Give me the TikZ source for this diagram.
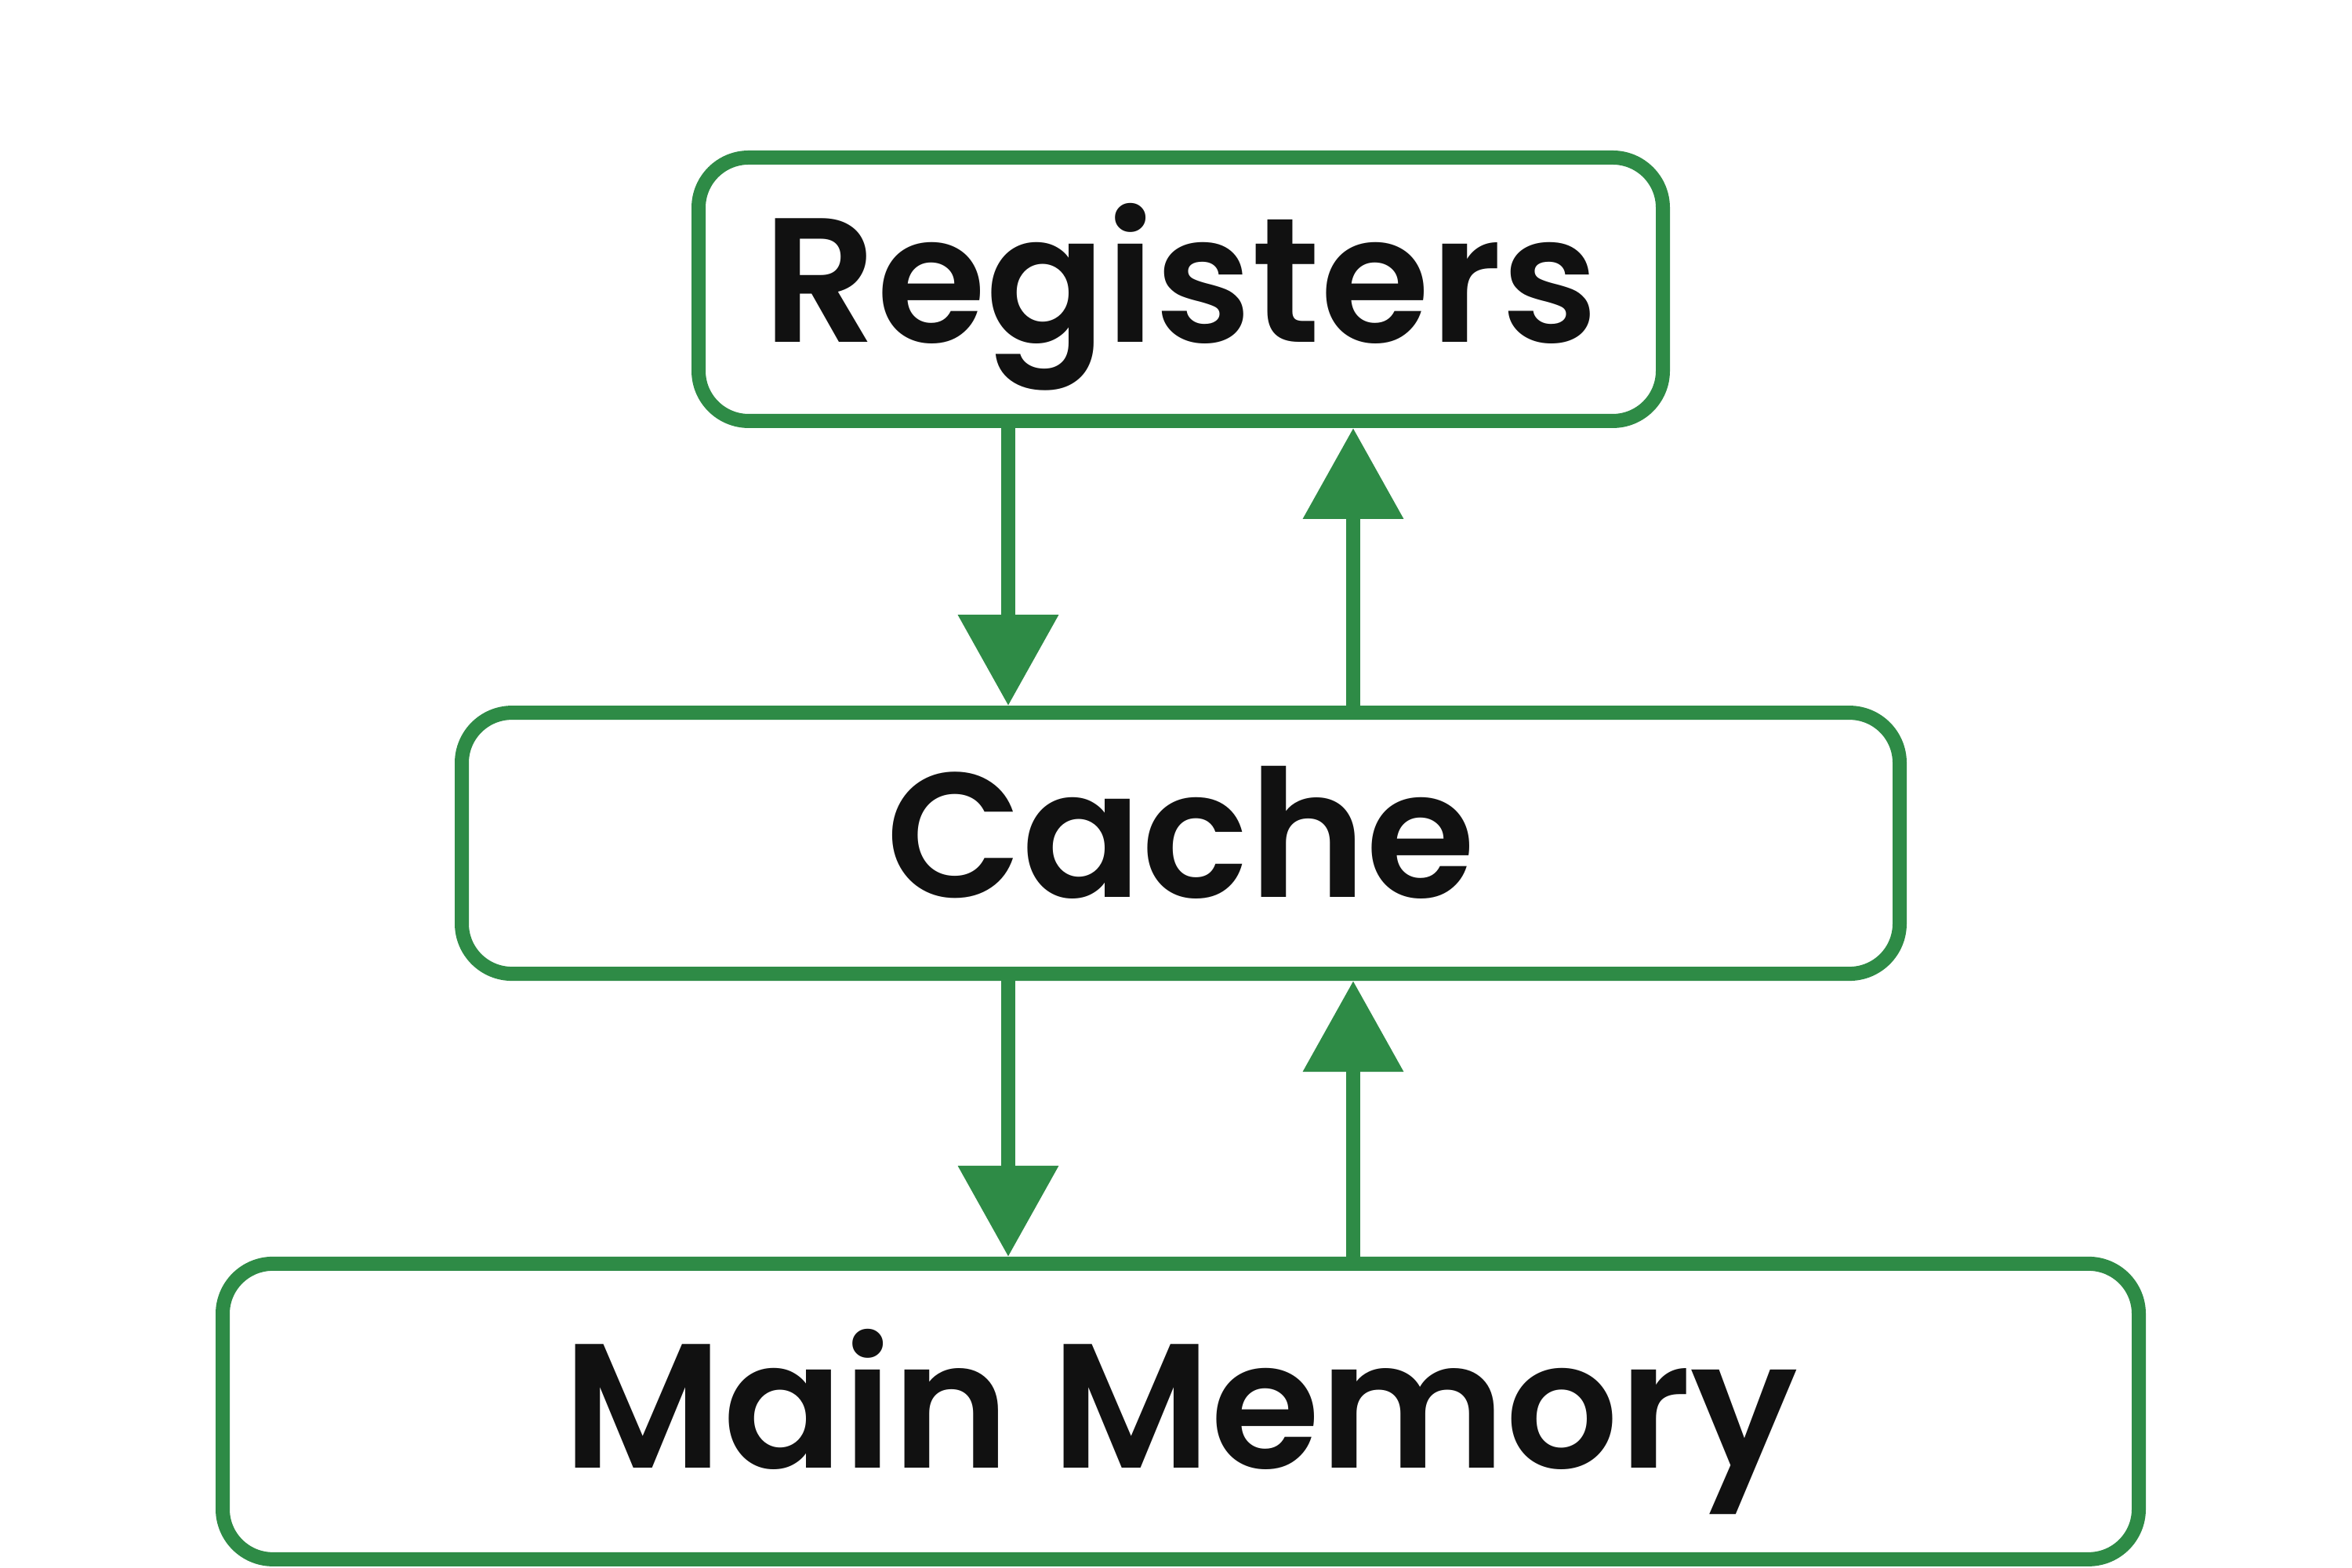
\documentclass[tikz,border=0pt]{standalone}
\usepackage{fontspec}
\setmainfont{Poppins}[UprightFont={* SemiBold}]
\usetikzlibrary{arrows.meta}
\definecolor{gfgreen}{RGB}{46,139,70}
\definecolor{txt}{RGB}{17,17,17}
\tikzset{
  box/.style={draw=gfgreen, line width=4.5pt, rounded corners=16pt, inner sep=0pt,
    text=txt, font=\fontsize{56.5}{60}\selectfont, text height=40pt},
  arr/.style={draw=gfgreen, line width=4.5pt, -{Triangle[width=31pt,length=29pt]}}
}
\begin{document}
\begin{tikzpicture}[x=1pt,y=1pt]
\useasboundingbox (0,0) rectangle (750,500);
\node[box, minimum width=307.5pt, minimum height=84pt, text depth=6pt] (reg) at (376.5,407.75) {Registers};
\node[box, minimum width=458.5pt, minimum height=83.25pt, text depth=5.5pt] (cache) at (376.5,231.1) {Cache};
\node[box, minimum width=611pt, minimum height=94.25pt, text depth=3.7pt] (main) at (376.5,49.9) {Main Memory};
\coordinate (xl) at (321.5,0);
\coordinate (xr) at (431.5,0);
\draw[arr] (reg.south -| xl) -- (cache.north -| xl);
\draw[arr] (cache.north -| xr) -- (reg.south -| xr);
\draw[arr] (cache.south -| xl) -- (main.north -| xl);
\draw[arr] (main.north -| xr) -- (cache.south -| xr);
\end{tikzpicture}
\end{document}
